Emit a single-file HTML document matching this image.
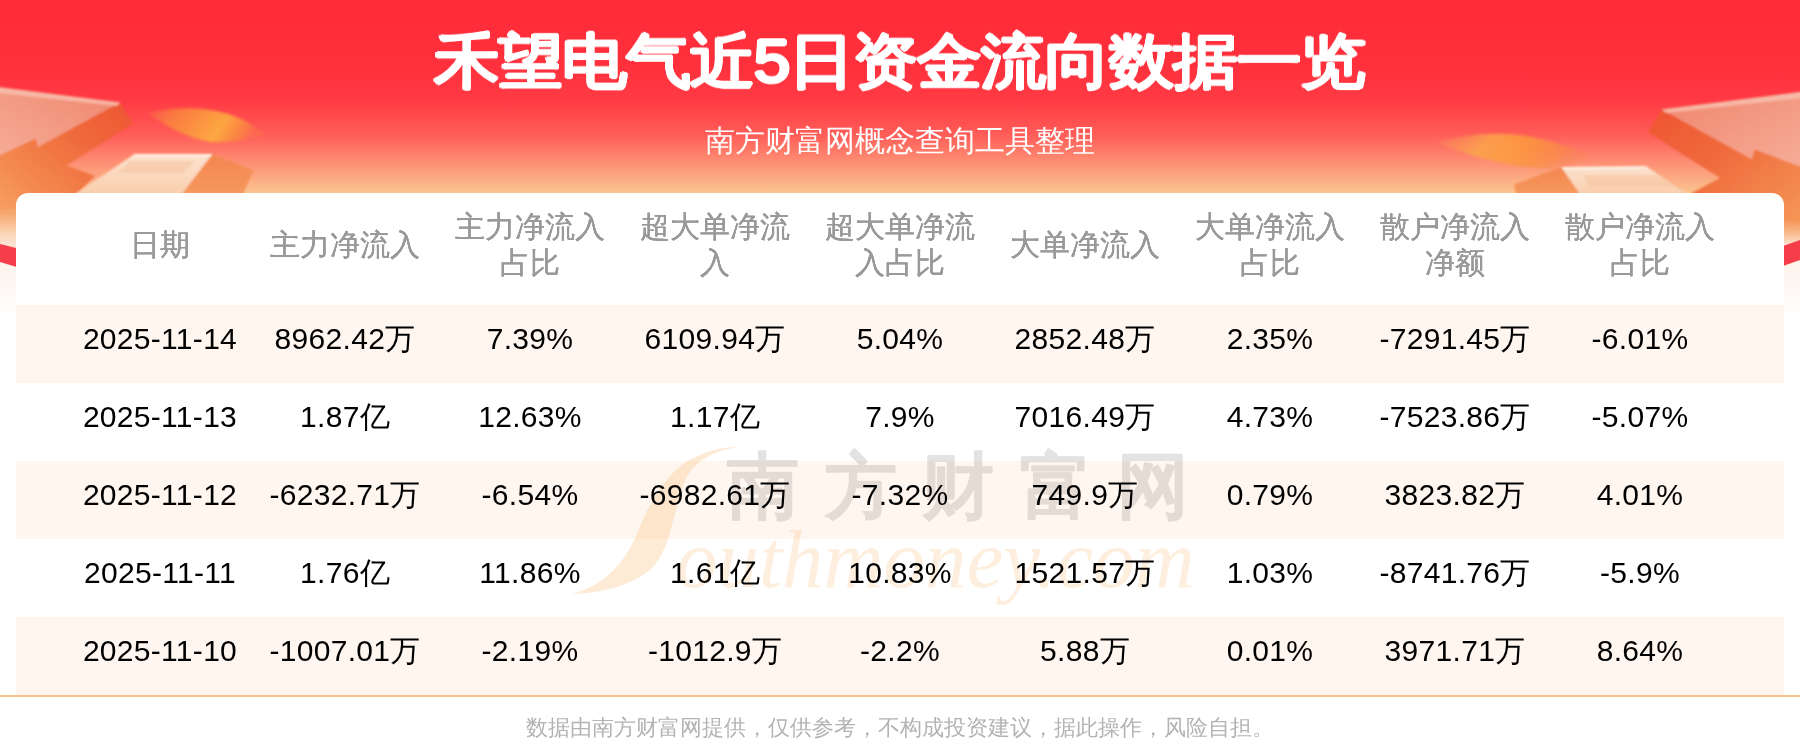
<!DOCTYPE html>
<html><head><meta charset="utf-8">
<style>
*{margin:0;padding:0;box-sizing:border-box}
html,body{width:1800px;height:743px;overflow:hidden;background:#fff}
body{position:relative;font-family:"Liberation Sans",sans-serif;-webkit-font-smoothing:antialiased}
#card,#title,#sub,#foot{will-change:transform}
#bg{position:absolute;left:0;top:0;width:1800px;height:743px;
 background:linear-gradient(to bottom,#ff2c38 0px,#ff2f3b 60px,#ff3a44 100px,#ff5d58 135px,#fd8e73 162px,#fbc490 193px,#fde9d8 240px,#ffffff 320px,#ffffff 743px)}
#deco{position:absolute;left:0;top:0;width:1800px;height:743px}
#title{position:absolute;left:-1px;top:21px;width:1800px;text-align:center;color:#fff;font-size:66px;font-weight:400;letter-spacing:-2px;line-height:80px;text-shadow:1.8px 0 #fff,-1.8px 0 #fff,0 1.8px #fff,0 -1.8px #fff,1.3px 1.3px #fff,-1.3px -1.3px #fff,1.3px -1.3px #fff,-1.3px 1.3px #fff;transform:scaleY(0.91);transform-origin:50% 50%}
#sub{position:absolute;left:0;top:123px;width:1800px;text-align:center;color:#fff;font-size:30px;line-height:36px}
#card{position:absolute;left:16px;top:193px;width:1768px;height:502px;background:#fff;border-radius:12px 12px 0 0;overflow:hidden}
.row{position:absolute;left:0;width:1768px;height:78px;display:flex;padding-left:51.5px}
.row.odd{background:#fef6ef}
.c{width:185px;flex:none;display:flex;align-items:center;justify-content:center;text-align:center;font-size:30px;color:#000;padding-bottom:10px;letter-spacing:0.3px}
#head{top:0;height:112px}
#head .c{color:#999;font-size:30px;line-height:36px;padding:0 15px 8px;letter-spacing:0;text-shadow:0.3px 0 #999,-0.3px 0 #999}
#wm{position:absolute;left:-16px;top:-193px;z-index:1;pointer-events:none}
.c{position:relative;z-index:2}
#line{position:absolute;left:0;top:695px;width:1800px;height:2px;background:#fbc18c}
#foot{position:absolute;left:0;top:713px;width:1800px;text-align:center;color:#b3b3b3;font-size:22px;line-height:30px}
</style></head><body>
<div id="bg"></div>
<svg id="deco" width="1800" height="743" viewBox="0 0 1800 743">
<defs>
 <linearGradient id="ob" x1="1" y1="0" x2="0" y2="1"><stop offset="0" stop-color="#ee5030"/><stop offset="0.4" stop-color="#f06a3c"/><stop offset="0.75" stop-color="#f48a4e"/><stop offset="1" stop-color="#f7a466"/></linearGradient>
 <linearGradient id="obr" x1="0" y1="0" x2="1" y2="1"><stop offset="0" stop-color="#ee4f30"/><stop offset="0.45" stop-color="#f06a3c"/><stop offset="1" stop-color="#f59a58"/></linearGradient>
 <linearGradient id="pk" x1="1" y1="0" x2="0" y2="1"><stop offset="0" stop-color="#f0846c"/><stop offset="0.5" stop-color="#f39a83"/><stop offset="1" stop-color="#f6ae99"/></linearGradient>
 <linearGradient id="pkr" x1="0" y1="0" x2="1" y2="1"><stop offset="0" stop-color="#f0846c"/><stop offset="0.5" stop-color="#f39a83"/><stop offset="1" stop-color="#f6ae99"/></linearGradient>
 <linearGradient id="cr" x1="0" y1="0" x2="0" y2="1"><stop offset="0" stop-color="#fce2cf"/><stop offset="1" stop-color="#f9cfae"/></linearGradient>
 <linearGradient id="sd" x1="0" y1="0" x2="0" y2="1"><stop offset="0" stop-color="#f48650"/><stop offset="1" stop-color="#f5985c"/></linearGradient>
 <radialGradient id="st"><stop offset="0" stop-color="#ffc23c"/><stop offset="0.5" stop-color="#fb9a3a"/><stop offset="0.8" stop-color="#f7743f" stop-opacity="0.8"/><stop offset="1" stop-color="#f66a45" stop-opacity="0"/></radialGradient>
 <linearGradient id="edge" x1="0" y1="0" x2="0" y2="1"><stop offset="0" stop-color="#f3864e"/><stop offset="0.24" stop-color="#f6a870"/><stop offset="0.36" stop-color="#facfac"/><stop offset="0.45" stop-color="#fde2d0"/><stop offset="0.6" stop-color="#fdf3ec"/><stop offset="1" stop-color="#ffffff"/></linearGradient>
 <filter id="bl" x="-50%" y="-50%" width="200%" height="200%"><feGaussianBlur stdDeviation="1.6"/></filter>
 <linearGradient id="stl" x1="0" y1="0" x2="1" y2="0.2"><stop offset="0" stop-color="#f97a48" stop-opacity="0.3"/><stop offset="0.25" stop-color="#f98a3c" stop-opacity="0.85"/><stop offset="0.7" stop-color="#fdb040"/><stop offset="0.9" stop-color="#fa8e3c" stop-opacity="0.8"/><stop offset="1" stop-color="#f88a44" stop-opacity="0.3"/></linearGradient>
 <linearGradient id="str" x1="0" y1="0" x2="1" y2="0.2"><stop offset="0" stop-color="#f88a60" stop-opacity="0.3"/><stop offset="0.35" stop-color="#fbaa48" stop-opacity="0.9"/><stop offset="0.6" stop-color="#fc9e3a" stop-opacity="0.9"/><stop offset="0.85" stop-color="#f98e3e" stop-opacity="0.7"/><stop offset="1" stop-color="#f7884a" stop-opacity="0.3"/></linearGradient>
 <linearGradient id="edgeR" x1="0" y1="0" x2="0" y2="1"><stop offset="0" stop-color="#f3864e"/><stop offset="0.3" stop-color="#f59a60"/><stop offset="0.4" stop-color="#f9c49c"/><stop offset="0.46" stop-color="#fde2d0"/><stop offset="0.6" stop-color="#fdf3ec"/><stop offset="1" stop-color="#ffffff"/></linearGradient>
 <filter id="bl1"><feGaussianBlur stdDeviation="0.8"/></filter>
</defs>
<!-- left side strip beneath card -->
<rect x="0" y="180" width="40" height="140" fill="url(#edge)"/>
<polygon points="0,244 40,254 40,274 0,262" fill="#f53e49"/>
<rect x="1760" y="180" width="40" height="140" fill="url(#edgeR)"/>
<polygon points="1760,254 1800,240 1800,260 1760,274" fill="#f53e49"/>
<!-- left arrow -->
<g filter="url(#bl1)">
<polygon points="-10,86 120,102.4 133,123.4 66.5,165.4 95,176 75,196 -10,212" fill="url(#ob)"/>
<polygon points="-10,86 120,102.4 37.6,147 35.9,138.2 -10,160" fill="url(#pk)"/>
<polygon points="-10,86 120,102.4 117,106 -10,92" fill="#f9c8b8" opacity="0.7"/>
<polygon points="134.7,154 212.6,154 182,194 75.2,194" fill="url(#cr)"/>
<polygon points="130,161 195,161 183,173 118,173" fill="#f7c4a0" opacity="0.6"/>
<polygon points="134.7,154 212.6,154 211,156.5 131,156.5" fill="#fff" opacity="0.5"/>
<polygon points="212.6,154 253.7,170.6 243,194 182,194" fill="url(#sd)"/>
</g>
<path d="M148,113 C175,106 205,107 228,114 C248,121 258,128 266,134 C250,140 230,143 210,142 C185,137 165,126 148,113 Z" fill="url(#stl)" filter="url(#bl)" opacity="0.9"/>
<!-- right arrow -->
<g filter="url(#bl1)">
<polygon points="1661.8,109.4 1810,91 1810,226 1690,194 1720,178 1647.8,132" fill="url(#obr)"/>
<polygon points="1661.8,109.4 1810,91 1810,170 1754.5,149.6 1751.9,159.2" fill="url(#pkr)"/>
<polygon points="1661.8,109.4 1810,91 1810,97 1666,113" fill="#f9c8b8" opacity="0.7"/>
<polygon points="1561.2,167.1 1646,166.2 1687.2,194 1579.6,194" fill="url(#cr)"/>
<polygon points="1582,175 1660,175 1676,187 1590,187" fill="#f7c4a0" opacity="0.6"/>
<polygon points="1561.2,167.1 1646,166.2 1649,168.5 1563,169.5" fill="#fff" opacity="0.5"/>
<polygon points="1514,184.6 1561.2,167.1 1579.6,194 1515.7,194" fill="url(#sd)"/>
</g>
<path d="M1437,143 C1460,135 1490,132 1520,135 C1550,140 1575,148 1592,156 C1575,165 1555,169 1535,168 C1500,164 1465,155 1437,143 Z" fill="url(#str)" filter="url(#bl)" opacity="0.88"/>
</svg>
<div id="title">禾望电气近5日资金流向数据一览</div>
<div id="sub">南方财富网概念查询工具整理</div>
<div id="card">
<svg id="wm" width="1800" height="743" viewBox="0 0 1800 743">
<path d="M739,446.6 C712,447 686,458 670,476 C654,494 645,514 637,534 C627,557 613,574 596,584 C586,590 579,592 572,594 C602,593 632,586 652,568 C667,552 670,530 675,514 C680,495 683,478 695,466 C705,456 720,450 739,446.6 Z" fill="#fcc68a" fill-opacity="0.35"/>
<text x="676" y="587" font-family="Liberation Serif, serif" font-style="italic" font-size="83" fill="#fbbf80" fill-opacity="0.26">outhmoney.com</text>
<g opacity="0.19"><text x="727" y="511" font-family="Liberation Serif, serif" font-weight="700" font-size="72" letter-spacing="25.5" fill="#786e69" stroke="#786e69" stroke-width="0.8" stroke-linejoin="round">南方财富网</text></g>
</svg>
 <div class="row" id="head">
  <div class="c">日期</div><div class="c">主力净流入</div><div class="c">主力净流入占比</div><div class="c">超大单净流入</div><div class="c">超大单净流入占比</div><div class="c">大单净流入</div><div class="c">大单净流入占比</div><div class="c">散户净流入净额</div><div class="c">散户净流入占比</div>
 </div>
 <div class="row odd" style="top:112px">
  <div class="c">2025-11-14</div><div class="c">8962.42万</div><div class="c">7.39%</div><div class="c">6109.94万</div><div class="c">5.04%</div><div class="c">2852.48万</div><div class="c">2.35%</div><div class="c">-7291.45万</div><div class="c">-6.01%</div>
 </div>
 <div class="row" style="top:190px">
  <div class="c">2025-11-13</div><div class="c">1.87亿</div><div class="c">12.63%</div><div class="c">1.17亿</div><div class="c">7.9%</div><div class="c">7016.49万</div><div class="c">4.73%</div><div class="c">-7523.86万</div><div class="c">-5.07%</div>
 </div>
 <div class="row odd" style="top:268px">
  <div class="c">2025-11-12</div><div class="c">-6232.71万</div><div class="c">-6.54%</div><div class="c">-6982.61万</div><div class="c">-7.32%</div><div class="c">749.9万</div><div class="c">0.79%</div><div class="c">3823.82万</div><div class="c">4.01%</div>
 </div>
 <div class="row" style="top:346px">
  <div class="c">2025-11-11</div><div class="c">1.76亿</div><div class="c">11.86%</div><div class="c">1.61亿</div><div class="c">10.83%</div><div class="c">1521.57万</div><div class="c">1.03%</div><div class="c">-8741.76万</div><div class="c">-5.9%</div>
 </div>
 <div class="row odd" style="top:424px">
  <div class="c">2025-11-10</div><div class="c">-1007.01万</div><div class="c">-2.19%</div><div class="c">-1012.9万</div><div class="c">-2.2%</div><div class="c">5.88万</div><div class="c">0.01%</div><div class="c">3971.71万</div><div class="c">8.64%</div>
 </div>
</div>
<div id="line"></div>
<div id="foot">数据由南方财富网提供，仅供参考，不构成投资建议，据此操作，风险自担。</div>
</body></html>
